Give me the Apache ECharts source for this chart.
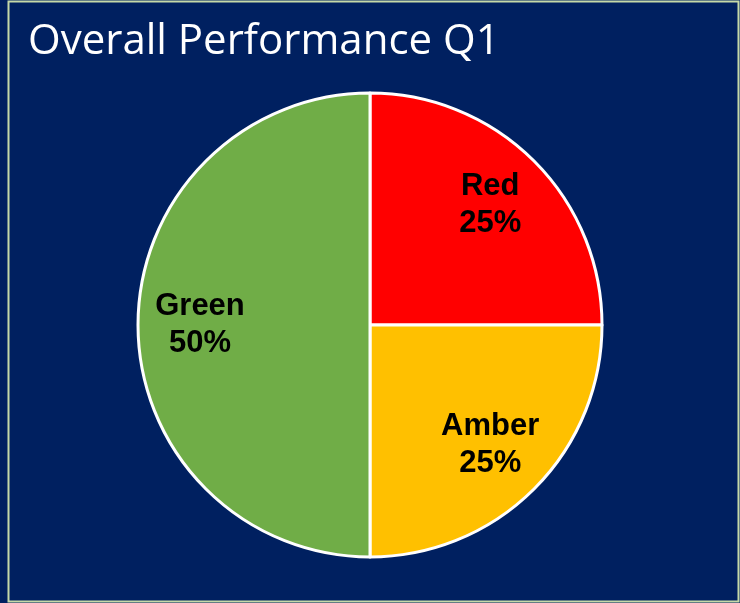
<!DOCTYPE html>
<html>
<head>
<meta charset="utf-8">
<style>
  html, body { margin: 0; padding: 0; background: #002060; }
  #chart { width: 740px; height: 603px; }
</style>
<script src="https://cdn.jsdelivr.net/npm/echarts@6/dist/echarts.min.js"></script>
</head>
<body>
<div id="chart"></div>
<script>
// slice names and shares, clockwise from 12 o'clock
const categories = ["Red", "Amber", "Green"];
const values = [25, 25, 50];
const sliceColors = ["#ff0000", "#ffc000", "#70ad47"];

const chart = echarts.init(document.getElementById("chart"));

const pieData = categories.map((name, i) => ({
  name: name,
  value: values[i],
  itemStyle: { color: sliceColors[i] },
}));

const options = {
  backgroundColor: "#002060",
  title: {
    text: "Overall Performance Q1",
    left: 23,
    top: 16,
    textStyle: {
      color: "#ffffff",
      fontFamily: "Open Sans",
      fontWeight: "normal",
      fontSize: 42,
    },
  },
  // thin frame round the slide
  graphic: [
    {
      type: "rect",
      shape: { x: 8.5, y: 1.5, width: 730, height: 600 },
      style: { fill: null, stroke: "#c5d9a8", lineWidth: 2 },
      silent: true,
    },
  ],
  series: [
    {
      type: "pie",
      center: [370, 325],
      radius: 232,
      startAngle: 90,
      clockwise: true,
      data: pieData,
      itemStyle: { borderColor: "#ffffff", borderWidth: 3 },
      label: { show: false },
      labelLine: { show: false },
      emphasis: { disabled: true },
      animation: false,
    },
    {
      // see-through ring, only used to place the labels further out
      type: "pie",
      center: [370, 325],
      radius: [102, 232],
      startAngle: 90,
      clockwise: true,
      silent: true,
      data: categories.map((name, i) => ({ name: name, value: values[i] })),
      itemStyle: { color: "rgba(0,0,0,0)", borderWidth: 0 },
      label: {
        show: true,
        position: "inside",
        formatter: (p) => p.name + "\n" + p.value + "%",
        color: "#000000",
        fontFamily: "Liberation Sans",
        fontWeight: "bold",
        fontSize: 31,
        lineHeight: 37,
      },
      labelLine: { show: false },
      emphasis: { disabled: true },
      animation: false,
    },
  ],
};
chart.setOption(options);
</script>
</body>
</html>
